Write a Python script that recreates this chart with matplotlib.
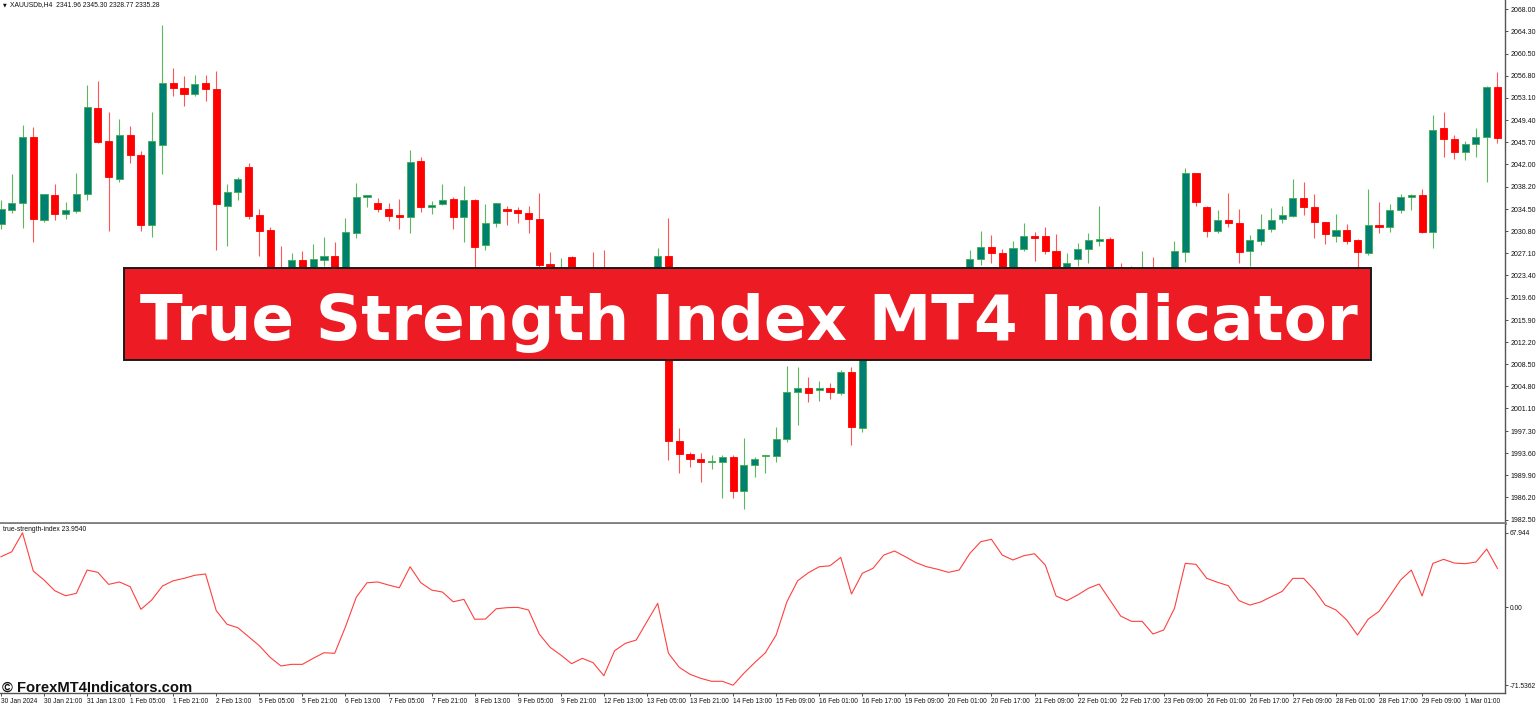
import matplotlib
matplotlib.use("Agg")
import matplotlib.pyplot as plt
from matplotlib.patches import Rectangle
import numpy as np

# H4 candles, XAUUSD, 30 Jan - 1 Mar 2024
opens = [2032.0, 2034.33, 2035.56, 2046.51, 2032.66, 2036.85, 2033.61, 2034.22, 2036.96, 2051.42,
         2045.84, 2039.48, 2046.95, 2043.55, 2031.82, 2045.22, 2055.66, 2054.82, 2053.76, 2055.56,
         2054.60, 2035.06, 2037.30, 2041.54, 2033.45, 2030.98, 2024.2, 2023.5, 2025.96, 2024.84,
         2025.96, 2026.63, 2023.8, 2030.53, 2036.56, 2035.56, 2034.45, 2033.50, 2033.21, 2042.54,
         2034.79, 2035.29, 2036.13, 2033.21, 2036.01, 2028.47, 2032.11, 2034.45, 2034.33, 2033.78,
         2032.78, 2025.24, 2021.0, 2026.41, 2018.6, 2021.5, 2019.5, 2012.0, 2018.5, 2020.5,
         2021.0, 2023.9, 2026.63, 1995.69, 1993.41, 1992.58, 1992.18, 1992.18, 1992.91, 1987.32,
         1991.62, 1993.13, 1993.18, 1995.93, 2003.80, 2004.47, 2004.18, 2004.47, 2003.73, 2007.25,
         1997.87, 2012.0, 2014.5, 2019.0, 2021.0, 2019.5, 2018.5, 2018.0, 2017.5, 2017.0,
         2018.5, 2026.08, 2028.14, 2027.08, 2023.8, 2027.75, 2029.98, 2029.98, 2027.47, 2022.3,
         2026.08, 2027.75, 2029.19, 2029.53, 2024.84, 2022.5, 2023.0, 2024.3, 2021.5, 2022.5,
         2027.35, 2040.48, 2034.89, 2030.87, 2032.66, 2032.21, 2027.52, 2029.19, 2031.10, 2032.78,
         2033.33, 2036.40, 2034.89, 2032.38, 2030.03, 2030.98, 2029.31, 2027.18, 2031.82, 2031.54,
         2034.33, 2036.46, 2036.85, 2030.70, 2048.02, 2046.23, 2044.00, 2045.34, 2046.61, 2054.89]
highs = [2036.0, 2040.36, 2048.57, 2048.19, 2037.01, 2038.64, 2035.73, 2040.48, 2055.27, 2055.99,
         2050.80, 2049.58, 2048.41, 2044.22, 2050.80, 2065.32, 2058.17, 2056.78, 2056.95, 2056.95,
         2057.67, 2038.69, 2039.81, 2042.16, 2034.45, 2031.54, 2028.36, 2027.08, 2027.52, 2028.64,
         2029.86, 2029.03, 2032.99, 2038.91, 2036.90, 2036.29, 2035.46, 2036.18, 2044.38, 2043.26,
         2035.89, 2038.64, 2036.56, 2038.41, 2036.18, 2035.34, 2035.50, 2035.01, 2034.79, 2035.01,
         2037.13, 2027.25, 2026.24, 2026.63, 2024.84, 2027.25, 2027.63, 2019.5, 2021.5, 2022.5,
         2024.0, 2027.92, 2032.94, 1997.87, 1993.85, 1993.58, 1993.30, 1993.30, 1993.30, 1996.09,
         1992.91, 1993.30, 1998.04, 2008.20, 2008.09, 2006.41, 2005.69, 2005.31, 2007.53, 2008.09,
         2013.0, 2015.5, 2020.0, 2022.5, 2022.0, 2020.5, 2019.5, 2019.0, 2018.5, 2019.5,
         2027.63, 2030.87, 2030.15, 2027.75, 2029.14, 2032.21, 2030.70, 2031.54, 2030.31, 2027.08,
         2028.76, 2030.53, 2035.00, 2029.76, 2025.41, 2024.95, 2027.47, 2026.51, 2023.5, 2029.14,
         2041.32, 2040.50, 2035.06, 2034.33, 2037.13, 2034.50, 2030.15, 2033.61, 2034.62, 2035.01,
         2039.48, 2039.08, 2036.96, 2032.40, 2033.66, 2031.99, 2029.40, 2037.85, 2035.62, 2035.29,
         2037.01, 2037.01, 2037.85, 2050.25, 2050.70, 2046.90, 2045.94, 2048.02, 2055.10, 2057.50]
lows = [2031.1, 2033.88, 2031.37, 2029.03, 2032.27, 2032.66, 2032.88, 2033.88, 2035.96, 2045.5,
        2030.82, 2039.08, 2042.26, 2030.87, 2029.86, 2040.31, 2053.43, 2051.81, 2053.43, 2052.64,
        2027.63, 2028.36, 2036.01, 2032.83, 2026.68, 2022.5, 2020.5, 2022.6, 2023.0, 2023.5,
        2025.0, 2022.8, 2023.0, 2029.59, 2034.89, 2034.05, 2032.49, 2031.15, 2030.53, 2033.95,
        2033.66, 2035.17, 2031.10, 2028.92, 2024.3, 2027.63, 2031.44, 2031.82, 2032.11, 2030.53,
        2024.84, 2019.8, 2020.2, 2017.5, 2017.8, 2018.5, 2011.0, 2011.0, 2017.0, 2019.0,
        2020.0, 2023.0, 1992.46, 1990.23, 1991.24, 1988.83, 1990.90, 1986.04, 1986.04, 1984.20,
        1989.56, 1990.23, 1992.18, 1995.53, 1998.32, 2002.23, 2002.39, 2002.63, 2003.35, 1994.97,
        1997.20, 2011.0, 2014.0, 2018.0, 2018.5, 2017.0, 2016.5, 2016.0, 2015.5, 2016.0,
        2018.0, 2025.12, 2025.51, 2022.5, 2023.0, 2027.5, 2025.84, 2026.96, 2021.0, 2021.5,
        2024.95, 2025.41, 2028.30, 2024.3, 2023.5, 2021.8, 2022.0, 2020.0, 2020.5, 2022.0,
        2025.57, 2035.06, 2029.76, 2030.53, 2031.54, 2025.51, 2025.01, 2028.47, 2030.60, 2032.21,
        2033.21, 2033.50, 2029.70, 2028.64, 2029.03, 2028.59, 2024.28, 2026.80, 2030.43, 2030.70,
        2033.88, 2034.33, 2030.53, 2027.92, 2043.16, 2042.83, 2042.71, 2043.26, 2039.08, 2045.61]
closes = [2034.5, 2035.56, 2046.51, 2032.78, 2037.01, 2033.61, 2034.33, 2036.96, 2051.54, 2045.72,
          2039.81, 2046.95, 2043.55, 2031.82, 2045.94, 2055.66, 2054.72, 2053.76, 2055.39, 2054.55,
          2035.29, 2037.35, 2039.53, 2033.38, 2030.87, 2023.8, 2021.8, 2025.96, 2024.2, 2026.13,
          2026.63, 2023.5, 2030.70, 2036.56, 2036.85, 2034.45, 2033.38, 2033.21, 2042.43, 2034.79,
          2035.17, 2036.01, 2033.21, 2036.01, 2028.19, 2032.11, 2035.46, 2034.17, 2033.78, 2032.78,
          2025.12, 2021.0, 2024.4, 2018.5, 2021.5, 2019.5, 2012.0, 2018.5, 2020.5, 2021.0,
          2023.5, 2026.63, 1995.64, 1993.41, 1992.58, 1992.18, 1992.29, 1992.91, 1987.32, 1991.62,
          1992.58, 1993.30, 1995.93, 2003.80, 2004.47, 2003.73, 2004.47, 2003.80, 2007.25, 1998.04,
          2012.0, 2014.5, 2019.0, 2021.0, 2019.5, 2018.5, 2018.0, 2017.5, 2017.0, 2018.5,
          2026.13, 2028.19, 2027.08, 2023.5, 2027.92, 2029.98, 2029.59, 2027.47, 2022.0, 2025.41,
          2027.75, 2029.31, 2029.43, 2024.74, 2024.2, 2024.0, 2024.3, 2021.5, 2022.5, 2027.47,
          2040.48, 2035.62, 2030.82, 2032.66, 2032.11, 2027.35, 2029.31, 2031.15, 2032.66, 2033.50,
          2036.40, 2034.79, 2032.27, 2030.26, 2030.98, 2029.19, 2027.25, 2031.82, 2031.54, 2034.33,
          2036.46, 2036.85, 2030.60, 2047.73, 2046.23, 2044.10, 2045.39, 2046.61, 2054.89, 2046.45]

tsi = [46.0, 50.5, 67.9, 32.9, 24.7, 14.9, 10.3, 12.5, 33.8, 31.7,
       20.7, 22.9, 18.6, -2.1, 6.4, 19.2, 24.0, 26.2, 29.0, 30.2,
       -3.4, -15.8, -18.9, -27.1, -35.4, -46.0, -53.9, -52.4, -52.4, -46.9,
       -41.8, -42.3, -18.0, 8.9, 22.2, 22.9, 20.1, 17.6, 36.8, 22.2,
       15.5, 13.7, 4.8, 7.0, -11.2, -11.0, -1.6, -0.6, -0.3, -2.7,
       -24.7, -36.8, -43.9, -51.8, -46.9, -50.9, -62.8, -39.9, -33.2, -30.2,
       -13.4, 3.4, -42.3, -55.1, -61.5, -65.2, -67.9, -67.9, -71.5, -60.6,
       -50.9, -41.8, -25.6, 4.8, 24.0, 31.4, 36.8, 37.7, 45.4, 11.9,
       30.8, 35.4, 47.5, 51.2, 46.0, 40.5, 36.8, 34.5, 31.7, 33.8,
       49.1, 59.7, 61.9, 47.5, 43.0, 46.9, 48.7, 38.4, 10.1, 5.8,
       11.0, 17.1, 21.0, 6.4, -8.2, -13.1, -13.1, -24.7, -21.0, -1.2,
       39.9, 39.0, 26.2, 22.6, 19.5, 5.8, 1.8, 4.6, 9.4, 14.3,
       26.2, 26.2, 15.5, 1.8, -2.7, -11.9, -25.6, -11.0, -4.0, 10.1,
       24.7, 33.8, 10.1, 39.9, 43.6, 40.2, 39.6, 41.1, 53.0, 35.3]

date_labels = ["30 Jan 2024", "30 Jan 21:00", "31 Jan 13:00", "1 Feb 05:00", "1 Feb 21:00",
               "2 Feb 13:00", "5 Feb 05:00", "5 Feb 21:00", "6 Feb 13:00", "7 Feb 05:00",
               "7 Feb 21:00", "8 Feb 13:00", "9 Feb 05:00", "9 Feb 21:00", "12 Feb 13:00",
               "13 Feb 05:00", "13 Feb 21:00", "14 Feb 13:00", "15 Feb 09:00", "16 Feb 01:00",
               "16 Feb 17:00", "19 Feb 09:00", "20 Feb 01:00", "20 Feb 17:00", "21 Feb 09:00",
               "22 Feb 01:00", "22 Feb 17:00", "23 Feb 09:00", "26 Feb 01:00", "26 Feb 17:00",
               "27 Feb 09:00", "28 Feb 01:00", "28 Feb 17:00", "29 Feb 09:00", "1 Mar 01:00"]
price_ticks = [2068.00, 2064.30, 2060.50, 2056.80, 2053.10, 2049.40, 2045.70, 2042.00,
               2038.20, 2034.50, 2030.80, 2027.10, 2023.40, 2019.60, 2015.90, 2012.20,
               2008.50, 2004.80, 2001.10, 1997.30, 1993.60, 1989.90, 1986.20, 1982.50]
tsi_ticks = [67.944, 0.0, -71.5362]
tsi_tick_labels = ["67.944", "0.00", "-71.5362"]

W, H = 1536, 705
fig = plt.figure(figsize=(W / 100, H / 100), dpi=100)
fig.patch.set_facecolor("white")
small = "Liberation Sans"

def px_box(x0, y0, x1, y1):
    # pixel box (top-left origin) -> figure fraction rect
    return [x0 / W, 1 - y1 / H, (x1 - x0) / W, (y1 - y0) / H]

ax = fig.add_axes(px_box(0, 0, 1505, 522.5))
ax2 = fig.add_axes(px_box(0, 524, 1505, 693))

n = len(opens)
x = np.arange(n)
o = np.array(opens); c = np.array(closes)
up = c >= o
bull_body, bull_edge = "#007f73", "#3fae49"
bear_body = "#ff0000"

ax.vlines(x[up], np.array(lows)[up], np.array(highs)[up], color="#5cb85c", lw=0.8, zorder=2)
ax.vlines(x[~up], np.array(lows)[~up], np.array(highs)[~up], color="#ff5555", lw=0.8, zorder=2)
bottoms = np.minimum(o, c)
heights = np.maximum(np.abs(c - o), 0.2)
ax.bar(x[up], heights[up], bottom=bottoms[up], width=0.66, color=bull_body,
       edgecolor=bull_edge, linewidth=0.6, zorder=3)
ax.bar(x[~up], heights[~up], bottom=bottoms[~up], width=0.66, color=bear_body,
       edgecolor=bear_body, linewidth=0.6, zorder=3)

xlo, xhi = -0.09, 139.7
ax.set_xlim(xlo, xhi)
ax.set_ylim(1982.0, 2069.51)
ax.set_xticks([])
ax.yaxis.tick_right()
ax.set_yticks(price_ticks)
ax.set_yticklabels(["%.2f" % v for v in price_ticks], family=small)
ax.tick_params(axis="y", direction="out", length=2.5, width=0.6, pad=1.5,
               labelsize=5.0, colors="#333333", labelcolor="#111111")
for s in ("top", "left"):
    ax.spines[s].set_visible(False)
ax.spines["right"].set_color("#555555")
ax.spines["right"].set_linewidth(1.0)
ax.spines["bottom"].set_color("#808080")
ax.spines["bottom"].set_linewidth(2.0)

ax2.plot(x, tsi, color="#ff4040", lw=0.8)
ax2.set_xlim(xlo, xhi)
ax2.set_ylim(-78.6, 75.9)
ax2.yaxis.tick_right()
ax2.set_yticks(tsi_ticks)
ax2.set_yticklabels(tsi_tick_labels, family=small)
ax2.tick_params(axis="y", direction="out", length=2.5, width=0.6, pad=1.0,
                labelsize=4.8, colors="#333333", labelcolor="#111111")
ax2.set_xticks(np.arange(0, n, 4)[:len(date_labels)])
ax2.set_xticklabels(date_labels, ha="left", family=small)
ax2.tick_params(axis="x", direction="out", length=2.5, width=0.6, pad=1.0,
                labelsize=4.8, colors="#333333", labelcolor="#111111")
for s in ("top", "left"):
    ax2.spines[s].set_visible(False)
for s in ("right", "bottom"):
    ax2.spines[s].set_color("#555555")
    ax2.spines[s].set_linewidth(1.0)

# header texts
fig.text(3 / W, 1 - 4.5 / H, "\u25BC", fontsize=3.5, va="center", ha="left", color="#111111")
fig.text(10 / W, 1 - 4.5 / H, "XAUUSDb,H4  2341.96 2345.30 2328.77 2335.28",
         fontsize=4.9, family=small, va="center", ha="left", color="#111111")
fig.text(3 / W, 1 - 529.5 / H, "true-strength-index 23.9540",
         fontsize=4.9, family=small, va="center", ha="left", color="#111111")

# banner
fig.add_artist(Rectangle((124 / W, 1 - 360 / H), (1371 - 124) / W, (360 - 268) / H,
                         transform=fig.transFigure, facecolor="#ed1c24",
                         edgecolor="#1a1a1a", linewidth=1.4, zorder=5))
renderer = fig.canvas.get_renderer()
title = fig.text(748.5 / W, 1 - 340 / H, "True Strength Index MT4 Indicator",
                 fontsize=40, fontweight="bold", family="DejaVu Sans", color="white",
                 ha="center", va="baseline", zorder=6)
wbox = title.get_window_extent(renderer).width
title.set_fontsize(40 * 1217 / wbox)

wm = fig.text(2 / W, 1 - 692 / H, "\u00a9 ForexMT4Indicators.com", fontsize=10,
              fontweight="bold", family="Liberation Sans", color="#111111",
              ha="left", va="baseline", zorder=6)
wbox = wm.get_window_extent(renderer).width
wm.set_fontsize(10 * 189 / wbox)

fig.savefig("out.png", dpi=100, facecolor="white")
